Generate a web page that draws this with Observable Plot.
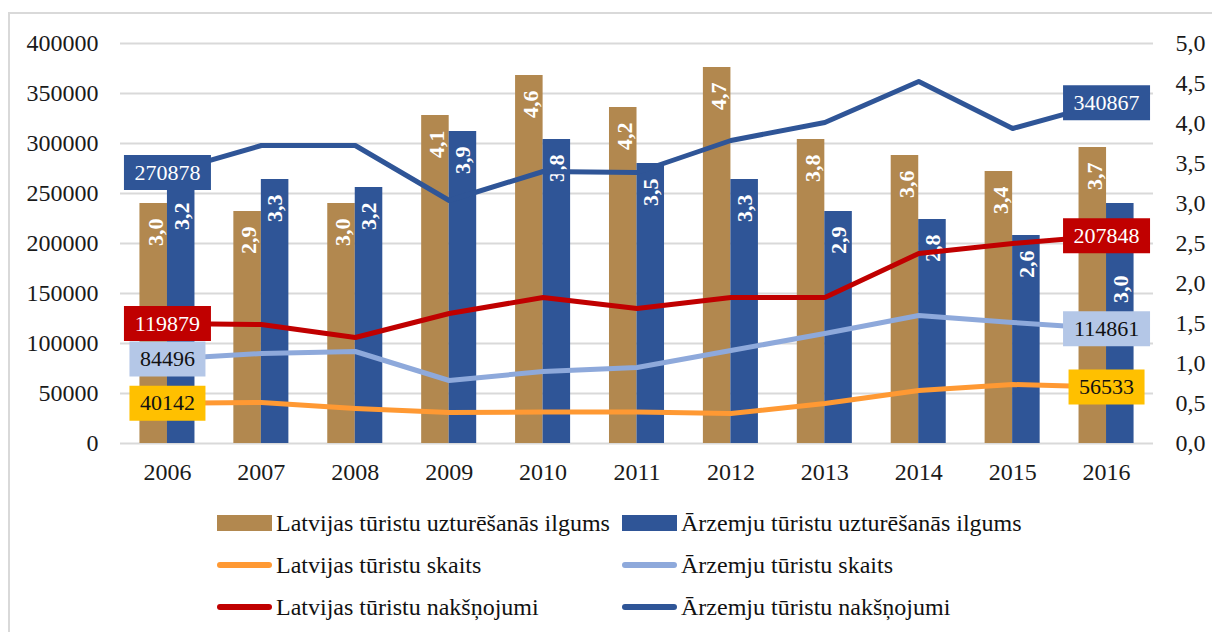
<!DOCTYPE html>
<html>
<head>
<meta charset="utf-8">
<script src="https://cdn.jsdelivr.net/npm/d3@7"></script>
<script src="https://cdn.jsdelivr.net/npm/@observablehq/plot@0.6"></script>
<style>
  html, body { margin: 0; padding: 0; background: #fff; overflow: hidden; width: 1212px; height: 632px; }
  #wrap { position: relative; width: 1212px; height: 632px; font-family: "Liberation Serif", "Times New Roman", serif; }
  #frame { position: absolute; left: 8px; top: 12px; width: 1300px; height: 700px;
           border-left: 2px solid #d9d9d9; border-top: 2px solid #d9d9d9; }
  #chart { position: absolute; left: 0; top: 0; }
  .lg { position: absolute; display: flex; align-items: center; height: 24px; font-size: 24px; line-height: 24px;
        color: #111; white-space: nowrap; }
  .lg .sw { display: inline-block; width: 55px; margin-right: 4px; }
</style>
</head>
<body>
<div id="wrap">
  <div id="frame"></div>
  <div id="chart"></div>
</div>
<script>
// ---- data ----
const years = ["2006","2007","2008","2009","2010","2011","2012","2013","2014","2015","2016"];
// bars (right axis, 0–5)
const latStay = [3.0, 2.9, 3.0, 4.1, 4.6, 4.2, 4.7, 3.8, 3.6, 3.4, 3.7];
const forStay = [3.2, 3.3, 3.2, 3.9, 3.8, 3.5, 3.3, 2.9, 2.8, 2.6, 3.0];
// lines (left axis, 0–400000)
const latCount  = [40142, 41000, 35000, 31000, 31500, 31500, 30000, 40000, 53000, 59000, 56533];
const forCount  = [84496, 90000, 92000, 63000, 72000, 76000, 93000, 110000, 128000, 121000, 114861];
const latNights = [119879, 119000, 106000, 130000, 146000, 135000, 146000, 146000, 190000, 200000, 207848];
const forNights = [270878, 298000, 298000, 243000, 272000, 271000, 303000, 321000, 362000, 315000, 340867];
const leftTicks = [0, 50000, 100000, 150000, 200000, 250000, 300000, 350000, 400000];
const rightTicks = [0, 0.5, 1, 1.5, 2, 2.5, 3, 3.5, 4, 4.5, 5];
const legendNames = [
  "Latvijas tūristu uzturēšanās ilgums", "Ārzemju tūristu uzturēšanās ilgums",
  "Latvijas tūristu skaits", "Ārzemju tūristu skaits",
  "Latvijas tūristu nakšņojumi", "Ārzemju tūristu nakšņojumi"
];

// ---- styles ----
const C = {
  brown: "#B2884F", blueBar: "#2F5597", orange: "#FF9933", lightBlue: "#8EA9DB",
  red: "#C00000", darkBlue: "#2F5597", orangeBox: "#FFC000", lightBox: "#B4C7E7", grid: "#d9d9d9"
};
const FONT = "Liberation Serif";
const K = 400000 / 5; // right axis value -> left axis units

const rows = years.map((year, i) => ({year, latStay: latStay[i], forStay: forStay[i]}));
const series = (vals) => years.map((year, i) => ({year, v: vals[i]}));
const comma = (v) => v.toFixed(1).replace(".", ",");

function boxSymbol(w, h) {
  return {draw(ctx) {
    ctx.moveTo(-w / 2, -h / 2); ctx.lineTo(w / 2, -h / 2);
    ctx.lineTo(w / 2, h / 2); ctx.lineTo(-w / 2, h / 2); ctx.closePath();
  }};
}
function endLabels(vals, boxFill, textFill) {
  return [0, vals.length - 1].flatMap((i) => {
    const p = {year: years[i], v: vals[i], label: String(vals[i])};
    return [
      Plot.dot([p], {x: "year", y: "v", symbol: boxSymbol(11 * p.label.length + 21, 35), fill: boxFill, stroke: "none"}),
      Plot.text([p], {x: "year", y: "v", text: "label", fill: textFill, fontSize: 22, fontFamily: FONT})
    ];
  });
}

const barLabelOpts = {rotate: -90, textAnchor: "end", fill: "white", fontWeight: "bold", fontSize: 22, fontFamily: FONT};

const chart = Plot.plot({
  width: 1212, height: 500,
  marginLeft: 120, marginRight: 59, marginTop: 43, marginBottom: 57,
  style: {fontFamily: FONT, background: "transparent", color: "#1a1a1a"},
  x: {type: "band", domain: years, paddingInner: 0.414, paddingOuter: 0.207, round: false},
  y: {domain: [0, 400000]},
  marks: [
    Plot.gridY({ticks: leftTicks, stroke: C.grid, strokeOpacity: 1, strokeWidth: 2}),
    Plot.axisY({anchor: "left", ticks: leftTicks, tickFormat: (d) => String(d), tickSize: 0, tickPadding: 22, fontSize: 24, label: null}),
    Plot.axisY({anchor: "right", ticks: rightTicks.map((d) => d * K), tickFormat: (d) => comma(d / K), tickSize: 0, tickPadding: 22, fontSize: 24, label: null}),
    Plot.axisX({tickSize: 0, tickPadding: 19, fontSize: 24, label: null}),
    Plot.barY(rows, {x: "year", y: (d) => d.latStay * K, fill: C.brown, insetRight: 27.5}),
    Plot.barY(rows, {x: "year", y: (d) => d.forStay * K, fill: C.blueBar, insetLeft: 27.5}),
    Plot.text(rows, {x: "year", y: (d) => d.latStay * K, text: (d) => comma(d.latStay), dx: -12, dy: 15, ...barLabelOpts}),
    Plot.text(rows.filter((d) => d.year !== "2016"), {x: "year", y: (d) => d.forStay * K, text: (d) => comma(d.forStay), dx: 14, dy: 15, ...barLabelOpts}),
    Plot.text(rows.filter((d) => d.year === "2016"), {x: "year", y: (d) => d.forStay * K, text: (d) => comma(d.forStay), dx: 14, dy: 72, ...barLabelOpts}),
    Plot.line(series(latCount), {x: "year", y: "v", stroke: C.orange, strokeWidth: 5, strokeLinecap: "round"}),
    Plot.line(series(forCount), {x: "year", y: "v", stroke: C.lightBlue, strokeWidth: 5, strokeLinecap: "round"}),
    Plot.line(series(latNights), {x: "year", y: "v", stroke: C.red, strokeWidth: 5, strokeLinecap: "round"}),
    Plot.line(series(forNights), {x: "year", y: "v", stroke: C.darkBlue, strokeWidth: 5, strokeLinecap: "round"}),
    ...endLabels(forNights, C.darkBlue, "white"),
    ...endLabels(latNights, C.red, "white"),
    ...endLabels(forCount, C.lightBox, "#111"),
    ...endLabels(latCount, C.orangeBox, "#111")
  ]
});
document.getElementById("chart").appendChild(chart);

// ---- legend (HTML, below the chart) ----
const legendSwatches = [
  {color: C.brown, kind: "bar"}, {color: C.blueBar, kind: "bar"},
  {color: C.orange, kind: "line"}, {color: C.lightBlue, kind: "line"},
  {color: C.red, kind: "line"}, {color: C.darkBlue, kind: "line"}
];
const colLeft = [217, 622], rowY = [523, 565, 607];
const wrap = document.getElementById("wrap");
legendNames.forEach((name, i) => {
  const item = document.createElement("div");
  item.className = "lg";
  item.style.left = colLeft[i % 2] + "px";
  item.style.top = (rowY[Math.floor(i / 2)] - 12) + "px";
  const sw = document.createElement("span");
  sw.className = "sw";
  const s = legendSwatches[i];
  sw.style.background = s.color;
  if (s.kind === "bar") { sw.style.height = "16px"; }
  else { sw.style.height = "6px"; sw.style.borderRadius = "3px"; }
  const t = document.createElement("span");
  t.textContent = name;
  item.appendChild(sw); item.appendChild(t);
  wrap.appendChild(item);
});
</script>
</body>
</html>
